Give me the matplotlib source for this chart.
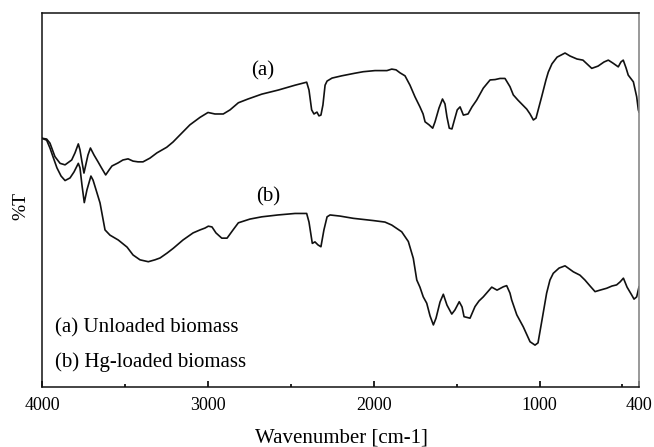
import matplotlib
matplotlib.use("Agg")
import matplotlib.pyplot as plt
from matplotlib.ticker import FixedLocator

plt.rcParams['font.family'] = ['Liberation Serif', 'DejaVu Serif']

# Spectrum (a): unloaded biomass
wn_a = [4000, 3972, 3952, 3922, 3891, 3861, 3821, 3801, 3781, 3771, 3759, 3747, 3723, 3708,
        3686, 3662, 3644, 3616, 3596, 3578, 3542, 3512, 3481, 3451, 3421, 3391, 3349, 3307,
        3248, 3210, 3168, 3108, 3047, 2999, 2957, 2907, 2866, 2816, 2758, 2675, 2575, 2474,
        2404, 2390, 2374, 2360, 2342, 2330, 2318, 2306, 2293, 2281, 2251, 2193, 2113, 2063,
        1992, 1920, 1891, 1865, 1841, 1811, 1781, 1751, 1721, 1702, 1690, 1666, 1644, 1630,
        1606, 1585, 1570, 1558, 1544, 1528, 1510, 1496, 1479, 1459, 1431, 1407, 1379, 1339,
        1298, 1268, 1238, 1208, 1178, 1158, 1130, 1077, 1057, 1037, 1021, 987, 961, 947, 925,
        894, 846, 816, 774, 738, 685, 647, 611, 585, 557, 525, 509, 495, 478, 465, 434, 414,
        404, 400]
t_a = [66.5, 66.3, 65.2, 61.6, 59.8, 59.4, 60.7, 62.6, 65.0, 63.4, 60.2, 57.2, 62.0, 63.9,
       62.0, 60.2, 58.8, 56.7, 58.0, 59.1, 59.9, 60.7, 61.0, 60.4, 60.2, 60.2, 61.2, 62.6,
       64.1, 65.5, 67.4, 70.1, 72.1, 73.4, 73.0, 73.0, 74.1, 76.0, 77.0, 78.3, 79.4, 80.7,
       81.5, 79.4, 74.1, 73.0, 73.5, 72.5, 72.7, 75.4, 80.7, 81.8, 82.6, 83.2, 83.9, 84.3,
       84.6, 84.6, 85.0, 84.8, 84.0, 83.2, 80.7, 77.6, 74.9, 73.0, 70.9, 70.1, 69.2, 70.9,
       74.6, 77.0, 75.7, 72.2, 69.2, 69.0, 71.9, 74.1, 74.9, 72.7, 73.0, 74.9, 76.7, 79.9,
       82.1, 82.2, 82.5, 82.5, 80.3, 78.1, 76.7, 74.3, 73.0, 71.4, 71.9, 77.6, 82.1, 84.2, 86.4,
       88.2, 89.3, 88.5, 87.7, 87.4, 85.2, 85.8, 86.9, 87.4, 86.6, 85.6, 86.9, 87.4, 85.3, 83.4,
       81.6, 77.6, 74.1, 73.5]

# Spectrum (b): Hg-loaded biomass
wn_b = [4000, 3972, 3952, 3934, 3910, 3885, 3861, 3831, 3807, 3781, 3771, 3759, 3745, 3729,
        3705, 3692, 3674, 3650, 3620, 3590, 3540, 3487, 3451, 3409, 3359, 3319, 3288, 3246,
        3208, 3150, 3089, 3047, 3017, 2997, 2975, 2951, 2916, 2884, 2848, 2816, 2746, 2675,
        2577, 2474, 2404, 2390, 2370, 2354, 2336, 2318, 2300, 2281, 2263, 2203, 2123, 2002,
        1932, 1891, 1831, 1791, 1761, 1740, 1721, 1701, 1680, 1660, 1640, 1624, 1600, 1580,
        1558, 1529, 1510, 1484, 1467, 1455, 1419, 1389, 1365, 1339, 1288, 1256, 1218, 1198,
        1178, 1168, 1137, 1098, 1057, 1027, 1009, 985, 957, 937, 917, 882, 846, 796, 756, 726,
        695, 665, 635, 595, 563, 535, 514, 494, 472, 444, 430, 414, 400]
t_b = [66.5, 66.0, 63.9, 61.6, 58.6, 56.4, 55.2, 55.9, 57.5, 59.8, 58.6, 54.0, 49.3, 52.7,
       56.4, 55.3, 52.7, 49.2, 42.0, 40.6, 39.3, 37.4, 35.3, 34.0, 33.5, 34.0, 34.5, 35.8,
       37.1, 39.3, 41.2, 42.0, 42.5, 43.0, 42.8, 41.2, 39.8, 39.8, 42.0, 43.9, 44.9, 45.5,
       46.0, 46.4, 46.4, 44.1, 38.4, 38.8, 38.0, 37.5, 42.0, 45.5, 46.0, 45.7, 45.1, 44.5,
       44.1, 43.3, 41.5, 38.9, 34.4, 28.6, 26.7, 24.1, 22.4, 19.0, 16.6, 18.4, 22.7, 24.8,
       21.9, 19.5, 20.6, 22.8, 21.4, 18.8, 18.4, 21.5, 23.0, 24.1, 26.7, 25.9, 26.8, 27.1,
       25.1, 23.3, 19.3, 16.1, 12.1, 11.2, 11.8, 17.9, 25.1, 28.6, 30.4, 31.8, 32.4, 30.8, 29.9, 28.6,
       27.0, 25.5, 25.9, 26.4, 27.0, 27.3, 28.1, 29.1, 26.7, 24.6, 23.5, 24.1, 26.8]

major_ticks = [4000, 3000, 2000, 1000, 400]
major_labels = ["4000", "3000", "2000", "1000", "400"]
minor_ticks = [3500, 2500, 1500, 500]

fig = plt.figure(figsize=(6.54, 4.47), dpi=100)
ax = fig.add_axes([42/654, 60/447, 597/654, 374/447])

ax.plot(wn_a, t_a, color='#111111', lw=1.2)
ax.plot(wn_b, t_b, color='#111111', lw=1.2)

ax.set_xlim(4000, 400)
ax.set_ylim(0, 100)
ax.set_yticks([])
ax.xaxis.set_major_locator(FixedLocator(major_ticks))
ax.set_xticklabels(major_labels)
ax.xaxis.set_minor_locator(FixedLocator(minor_ticks))
ax.tick_params(axis='x', which='major', direction='in', length=4, width=1.2,
               labelsize=13, pad=7)
ax.tick_params(axis='x', which='minor', direction='in', length=2.5, width=1.2)

for s in ['left', 'bottom', 'top']:
    ax.spines[s].set_color('#111111')
    ax.spines[s].set_linewidth(1.1)
ax.spines['right'].set_color('#888888')
ax.spines['right'].set_linewidth(1.2)

ax.text(2667, 83.2, "(a)", fontsize=15, ha='center', va='baseline')
ax.text(2637, 49.5, "(b)", fontsize=15, ha='center', va='baseline')
ax.text(0.0218, 0.145, "(a) Unloaded biomass", fontsize=15, transform=ax.transAxes,
        ha='left', va='baseline')
ax.text(0.0218, 0.0543, "(b) Hg-loaded biomass", fontsize=15, transform=ax.transAxes,
        ha='left', va='baseline')

fig.text(341/654, 5/447, "Wavenumber [cm-1]", fontsize=15, ha='center', va='baseline')
fig.text(20.5/654, (447-206.5)/447, "%T", fontsize=14, rotation=90, ha='center', va='center')

fig.savefig("out.png", dpi=100)
